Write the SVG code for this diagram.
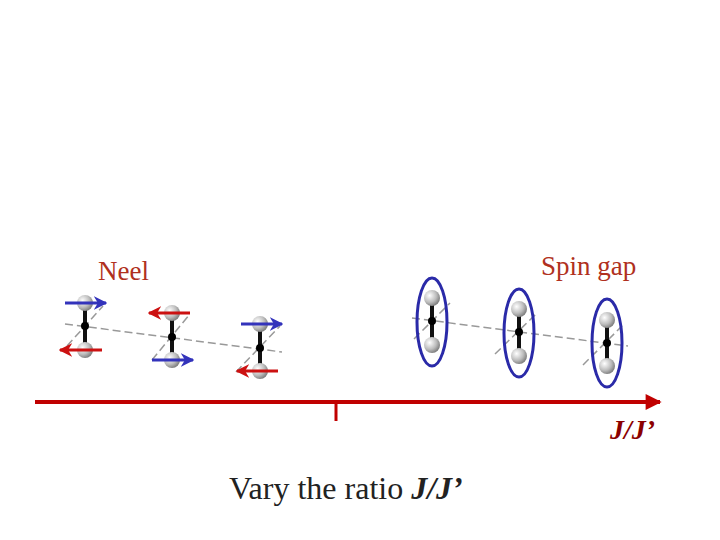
<svg xmlns="http://www.w3.org/2000/svg" width="720" height="540" viewBox="0 0 720 540">
<defs>
<radialGradient id="ball" cx="0.35" cy="0.35" r="0.7"><stop offset="0" stop-color="#ffffff"/><stop offset="0.6" stop-color="#bdbdbd"/><stop offset="1" stop-color="#7a7a7a"/></radialGradient>
<marker id="ab" viewBox="0 0 10 10" refX="9" refY="5" markerWidth="4.5" markerHeight="4.5" orient="auto"><path d="M0,0L10,5L0,10L3,5z" fill="#3333bb"/></marker>
<marker id="ar" viewBox="0 0 10 10" refX="9" refY="5" markerWidth="4.5" markerHeight="4.5" orient="auto"><path d="M0,0L10,5L0,10L3,5z" fill="#cc1111"/></marker>
<marker id="ax" viewBox="0 0 10 10" refX="9" refY="5" markerWidth="5" markerHeight="4" orient="auto"><path d="M0,0L10,5L0,10z" fill="#c00000"/></marker>
</defs>
<style>
.d{stroke:#999;stroke-width:1.5;stroke-dasharray:8,4;fill:none}
.b{stroke:#111;stroke-width:4}
.s{fill:url(#ball)}
.bl{stroke:#3333bb;stroke-width:3;marker-end:url(#ab)}
.rd{stroke:#cc1111;stroke-width:3;marker-end:url(#ar)}
.e{fill:none;stroke:#2a2aa8;stroke-width:3}
.lab{font-family:"Liberation Serif",serif;font-size:27px;fill:#b03020}
</style>
<g id="connectors">
<line class="d" x1="65" y1="324" x2="282" y2="352"/>
<line class="d" x1="412" y1="318" x2="628" y2="346"/>
<line x1="35" y1="402" x2="660" y2="402" stroke="#c00000" stroke-width="4" marker-end="url(#ax)"/>
<line x1="336" y1="402" x2="336" y2="421" stroke="#c00000" stroke-width="3"/>
</g>
<g id="neel1"><line class="d" x1="67" y1="346" x2="103" y2="306"/><line class="b" x1="85" y1="303" x2="85" y2="350"/><circle class="s" cx="85" cy="303" r="8"/><circle class="s" cx="85" cy="350" r="8"/><circle cx="85" cy="326" r="4"/><line class="bl" x1="65" y1="303" x2="106" y2="303"/><line class="rd" x1="102" y1="350" x2="60" y2="350"/></g>
<g id="neel2"><line class="d" x1="152" y1="360" x2="190" y2="314"/><line class="b" x1="172" y1="313" x2="172" y2="360"/><circle class="s" cx="172" cy="313" r="8"/><circle class="s" cx="172" cy="360" r="8"/><circle cx="172" cy="337" r="4"/><line class="rd" x1="190" y1="313" x2="149" y2="313"/><line class="bl" x1="152" y1="360" x2="193" y2="360"/></g>
<g id="neel3"><line class="d" x1="236" y1="372" x2="280" y2="326"/><line class="b" x1="260" y1="324" x2="260" y2="371"/><circle class="s" cx="260" cy="324" r="8"/><circle class="s" cx="260" cy="371" r="8"/><circle cx="260" cy="348" r="4"/><line class="bl" x1="241" y1="324" x2="282" y2="324"/><line class="rd" x1="278" y1="371" x2="237" y2="371"/></g>
<g id="gap1"><line class="d" x1="414" y1="339" x2="450" y2="303"/><line class="b" x1="432" y1="298" x2="432" y2="345"/><circle class="s" cx="432" cy="298" r="8"/><circle class="s" cx="432" cy="345" r="8"/><circle cx="432" cy="321" r="4"/><ellipse class="e" cx="432" cy="322" rx="15" ry="44"/></g>
<g id="gap2"><line class="d" x1="495" y1="354" x2="536" y2="314"/><line class="b" x1="519" y1="309" x2="519" y2="356"/><circle class="s" cx="519" cy="309" r="8"/><circle class="s" cx="519" cy="356" r="8"/><circle cx="519" cy="332" r="4"/><ellipse class="e" cx="519" cy="333" rx="15" ry="44"/></g>
<g id="gap3"><line class="d" x1="583" y1="365" x2="622" y2="326"/><line class="b" x1="607" y1="320" x2="607" y2="366"/><circle class="s" cx="607" cy="320" r="8"/><circle class="s" cx="607" cy="366" r="8"/><circle cx="607" cy="343" r="4"/><ellipse class="e" cx="607" cy="343" rx="15" ry="44"/></g>
<text class="lab" x="98" y="280">Neel</text>
<text class="lab" x="541" y="275">Spin gap</text>
<text x="610" y="439" font-family="Liberation Serif,serif" font-size="28" font-style="italic" font-weight="bold" fill="#8b0000">J/J’</text>
<text x="229" y="499" font-family="Liberation Serif,serif" font-size="32" fill="#222">Vary the ratio <tspan font-style="italic" font-weight="bold">J/J’</tspan></text>
</svg>
